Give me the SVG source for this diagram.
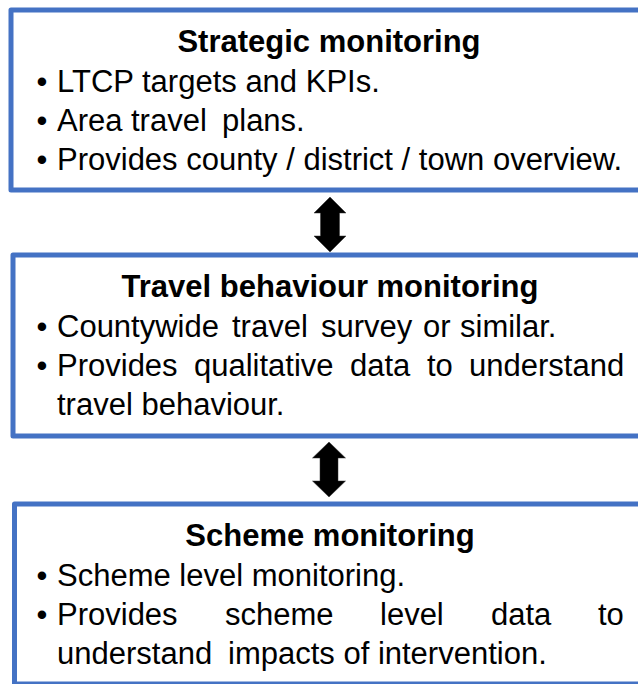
<svg xmlns="http://www.w3.org/2000/svg" width="638" height="684" viewBox="0 0 638 684">
<style>
.box{fill:#ffffff;stroke:#4472C4;stroke-width:5;stroke-linejoin:round}
.t{font-family:"Liberation Sans",Arial,sans-serif;font-size:31px;fill:#000000}
.h{font-weight:bold;text-anchor:middle}
.b{text-anchor:middle}
.arr{fill:#000000;stroke:#333333;stroke-width:0.5}
</style>
<rect width="638" height="684" fill="#ffffff"/>
<g id="connectors">
<polygon class="arr" points="330,197 346,213 339.5,213 339.5,236 346,236 330,252 314,236 320.5,236 320.5,213 314,213"/>
<polygon class="arr" points="329,442 345.5,458 338,458 338,481 345.5,481 329,497 312.5,481 320,481 320,458 312.5,458"/>
</g>
<g id="strategic">
<rect class="box" x="11" y="10" width="640" height="180"/>
<text class="t h" x="329" y="52">Strategic monitoring</text>
<text class="t b" x="42" y="92">•</text>
<text class="t" x="57" y="92">LTCP targets and KPIs.</text>
<text class="t b" x="42" y="131">•</text>
<text class="t" y="131"><tspan x="57">Area</tspan><tspan x="131">travel</tspan><tspan x="222">plans.</tspan></text>
<text class="t b" x="42" y="170">•</text>
<text class="t" x="57" y="170">Provides county / district / town overview.</text>
</g>
<g id="travel">
<rect class="box" x="13" y="255" width="640" height="181"/>
<text class="t h" x="330" y="297">Travel behaviour monitoring</text>
<text class="t b" x="42" y="337">•</text>
<text class="t" y="337"><tspan x="57">Countywide</tspan><tspan x="232">travel</tspan><tspan x="321">survey</tspan><tspan x="423">or</tspan><tspan x="460">similar.</tspan></text>
<text class="t b" x="42" y="376">•</text>
<text class="t" y="376"><tspan x="57">Provides</tspan><tspan x="194">qualitative</tspan><tspan x="350">data</tspan><tspan x="427">to</tspan><tspan x="469">understand</tspan></text>
<text class="t" x="57" y="415">travel behaviour.</text>
</g>
<g id="scheme">
<rect class="box" x="14.5" y="504" width="640" height="180"/>
<text class="t h" x="330" y="546">Scheme monitoring</text>
<text class="t b" x="42" y="586">•</text>
<text class="t" x="57" y="586">Scheme level monitoring.</text>
<text class="t b" x="42" y="625">•</text>
<text class="t" y="625"><tspan x="57">Provides</tspan><tspan x="225">scheme</tspan><tspan x="380">level</tspan><tspan x="491">data</tspan><tspan x="598">to</tspan></text>
<text class="t" y="664"><tspan x="57">understand</tspan><tspan x="228">impacts of intervention.</tspan></text>
</g>
</svg>
